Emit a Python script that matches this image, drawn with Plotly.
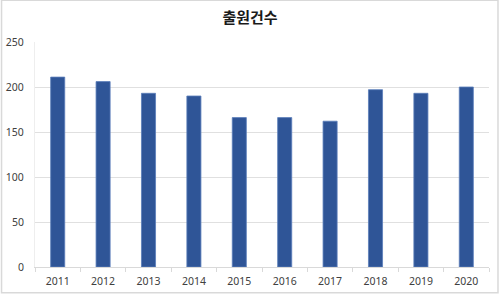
import plotly.graph_objects as go

years = ["2011", "2012", "2013", "2014", "2015", "2016", "2017", "2018", "2019", "2020"]
counts = [211, 206, 193, 190, 166, 166, 162, 197, 193, 200]
title_text = "출원건수"
y_ticks = [0, 50, 100, 150, 200, 250]

W, H = 500, 297
ml, mr, mt, mb = 34.5, 11, 42.3, 29.7

fig = go.Figure(go.Bar(
    x=years, y=counts,
    marker=dict(color="#2F5597", line=dict(color="#5B7DBA", width=0.8)),
))

pw = W - ml - mr
ph = H - mt - mb

def px_to_paper_x(px):
    return (px - ml) / pw

def px_to_paper_y(py):
    return (H - mb - py) / ph

fig.update_layout(
    width=W, height=H,
    margin=dict(l=ml, r=mr, t=mt, b=mb, pad=0, autoexpand=False),
    paper_bgcolor="white", plot_bgcolor="white",
    bargap=0.69,
    showlegend=False,
    font=dict(family="Noto Sans CJK KR, Noto Sans, sans-serif", color="#404040"),
    title=dict(text="<b>" + title_text + "</b>", x=0.5, xanchor="center",
               y=1 - 18 / H, yanchor="middle",
               font=dict(size=15, color="#1a1a1a", family="Noto Sans CJK KR")),
    xaxis=dict(
        type="category", showgrid=False, zeroline=False, automargin=False,
        showline=True, linecolor="#D9D9D9", linewidth=1,
        ticks="outside", tickson="boundaries", ticklen=4, tickcolor="#D9D9D9",
        tickfont=dict(size=10.5, color="#404040", family="Noto Sans"),
        ticklabelstandoff=4,
    ),
    yaxis=dict(
        range=[0, 250], tickvals=y_ticks, showgrid=True, gridcolor="#E0E0E0",
        gridwidth=1, zeroline=False, showline=True, linecolor="#EEEEEE",
        automargin=False,
        ticks="", tickfont=dict(size=10.5, color="#404040", family="Noto Sans"),
        ticklabelstandoff=8,
    ),
    shapes=[dict(
        type="rect", xref="paper", yref="paper",
        x0=px_to_paper_x(1), x1=px_to_paper_x(498),
        y0=px_to_paper_y(293), y1=px_to_paper_y(0.5),
        line=dict(color="#D9D9D9", width=1.5), fillcolor="rgba(0,0,0,0)",
        layer="below",
    )],
)

fig.write_html("out.html")
